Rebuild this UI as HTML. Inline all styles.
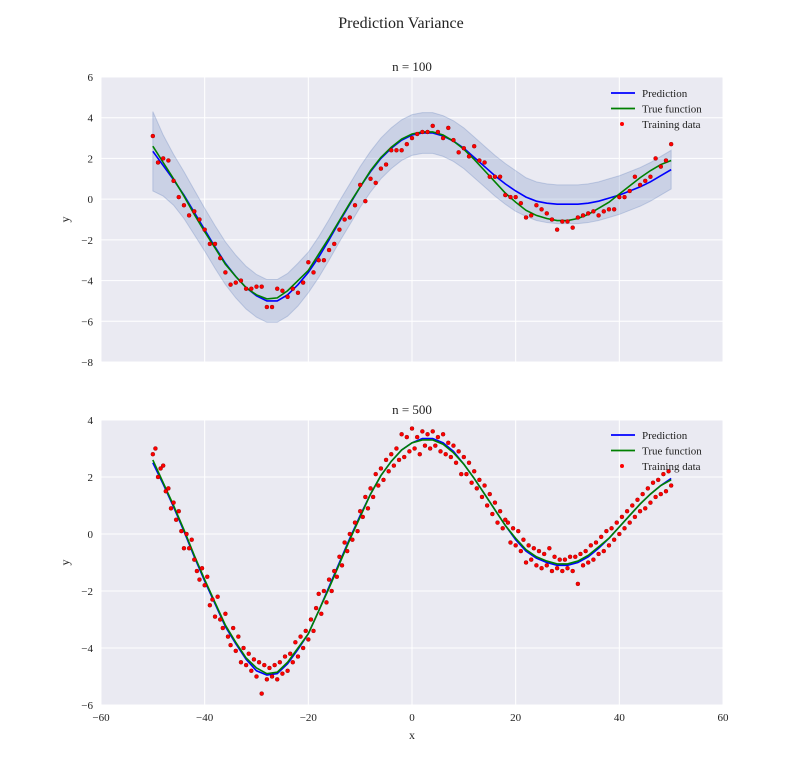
<!DOCTYPE html>
<html><head><meta charset="utf-8"><style>
body{margin:0;background:#fff;}
svg{display:block;font-family:"Liberation Serif","DejaVu Serif",serif;}
</style></head><body>
<svg id="chart" width="803" height="783" xmlns="http://www.w3.org/2000/svg">
<text x="401" y="28" text-anchor="middle" font-size="16" fill="#222">Prediction Variance</text>
</svg>
<script>
const curveX=[-50,-48,-46,-44,-42,-40,-38,-36,-34,-32,-30,-28,-26,-24,-22,-20,-18,-16,-14,-12,-10,-8,-6,-4,-2,0,2,4,6,8,10,12,14,16,18,20,22,24,26,28,30,32,34,36,38,40,42,44,46,48,50];
const trueY=[2.6,1.8,1.0,0.15,-0.75,-1.6,-2.4,-3.2,-3.8,-4.35,-4.7,-4.9,-4.85,-4.5,-4.0,-3.5,-2.7,-1.9,-1.05,-0.2,0.6,1.4,2.05,2.55,2.95,3.2,3.3,3.3,3.15,2.85,2.45,1.95,1.4,0.85,0.3,-0.15,-0.55,-0.8,-0.95,-1.05,-1.05,-0.95,-0.75,-0.45,-0.15,0.25,0.65,1.05,1.4,1.7,1.9];
const pred100=[2.35,1.65,0.95,0.2,-0.65,-1.5,-2.35,-3.15,-3.8,-4.35,-4.75,-5.0,-5.0,-4.7,-4.2,-3.6,-2.85,-2.0,-1.1,-0.25,0.6,1.35,2.0,2.5,2.9,3.15,3.25,3.25,3.1,2.85,2.5,2.05,1.6,1.15,0.75,0.4,0.1,-0.1,-0.2,-0.25,-0.25,-0.25,-0.2,-0.1,0.05,0.2,0.4,0.6,0.85,1.15,1.45];
const std100=[1.95,1.5,1.25,1.15,1.1,1.05,1.05,1.05,1.05,1.05,1.05,1.05,1.05,1.05,1.05,1.0,1.0,1.0,1.0,1.0,1.0,1.0,1.0,1.0,1.0,1.0,1.0,1.0,1.0,1.0,1.0,1.0,1.0,1.0,1.0,1.0,0.95,0.95,0.95,0.95,0.95,0.95,0.95,0.95,0.95,0.95,0.95,0.95,0.95,0.95,0.95];
const pred500=[2.5,1.75,0.95,0.1,-0.8,-1.65,-2.45,-3.25,-3.85,-4.4,-4.8,-4.95,-4.9,-4.55,-4.05,-3.5,-2.7,-1.85,-1.0,-0.15,0.65,1.4,2.05,2.55,2.95,3.2,3.35,3.35,3.2,2.9,2.45,1.95,1.4,0.85,0.3,-0.2,-0.6,-0.85,-1.0,-1.1,-1.1,-1.0,-0.8,-0.5,-0.15,0.25,0.65,1.05,1.4,1.7,1.95];
const train100X=[-50,-49,-48,-47,-46,-45,-44,-43,-42,-41,-40,-39,-38,-37,-36,-35,-34,-33,-32,-31,-30,-29,-28,-27,-26,-25,-24,-23,-22,-21,-20,-19,-18,-17,-16,-15,-14,-13,-12,-11,-10,-9,-8,-7,-6,-5,-4,-3,-2,-1,0,1,2,3,4,5,6,7,8,9,10,11,12,13,14,15,16,17,18,19,20,21,22,23,24,25,26,27,28,29,30,31,32,33,34,35,36,37,38,39,40,41,42,43,44,45,46,47,48,49,50];
const train100Y=[3.1,1.8,2.0,1.9,0.9,0.1,-0.3,-0.8,-0.6,-1.0,-1.5,-2.2,-2.2,-2.9,-3.6,-4.2,-4.1,-4.0,-4.4,-4.4,-4.3,-4.3,-5.3,-5.3,-4.4,-4.5,-4.8,-4.4,-4.6,-4.1,-3.1,-3.6,-3.0,-3.0,-2.5,-2.2,-1.5,-1.0,-0.9,-0.3,0.7,-0.1,1.0,0.8,1.5,1.7,2.4,2.4,2.4,2.7,3.0,3.2,3.3,3.3,3.6,3.3,3.0,3.5,2.9,2.3,2.5,2.1,2.6,1.9,1.8,1.1,1.1,1.1,0.2,0.1,0.1,-0.2,-0.9,-0.8,-0.3,-0.5,-0.7,-1.0,-1.5,-1.1,-1.1,-1.4,-0.9,-0.8,-0.7,-0.6,-0.8,-0.6,-0.5,-0.5,0.1,0.1,0.4,1.1,0.7,0.9,1.1,2.0,1.6,1.9,2.7];
const train500X=[-50,-49.5,-49,-48.5,-48,-47.5,-47,-46.5,-46,-45.5,-45,-44.5,-44,-43.5,-43,-42.5,-42,-41.5,-41,-40.5,-40,-39.5,-39,-38.5,-38,-37.5,-37,-36.5,-36,-35.5,-35,-34.5,-34,-33.5,-33,-32.5,-32,-31.5,-31,-30.5,-30,-29.5,-29,-28.5,-28,-27.5,-27,-26.5,-26,-25.5,-25,-24.5,-24,-23.5,-23,-22.5,-22,-21.5,-21,-20.5,-20,-19.5,-19,-18.5,-18,-17.5,-17,-16.5,-16,-15.5,-15,-14.5,-14,-13.5,-13,-12.5,-12,-11.5,-11,-10.5,-10,-9.5,-9,-8.5,-8,-7.5,-7,-6.5,-6,-5.5,-5,-4.5,-4,-3.5,-3,-2.5,-2,-1.5,-1,-0.5,0,0.5,1,1.5,2,2.5,3,3.5,4,4.5,5,5.5,6,6.5,7,7.5,8,8.5,9,9.5,10,10.5,11,11.5,12,12.5,13,13.5,14,14.5,15,15.5,16,16.5,17,17.5,18,18.5,19,19.5,20,20.5,21,21.5,22,22.5,23,23.5,24,24.5,25,25.5,26,26.5,27,27.5,28,28.5,29,29.5,30,30.5,31,31.5,32,32.5,33,33.5,34,34.5,35,35.5,36,36.5,37,37.5,38,38.5,39,39.5,40,40.5,41,41.5,42,42.5,43,43.5,44,44.5,45,45.5,46,46.5,47,47.5,48,48.5,49,49.5,50];
const train500Y=[2.8,3.0,2.0,2.3,2.4,1.5,1.6,0.9,1.1,0.5,0.8,0.1,-0.5,0.0,-0.5,-0.2,-0.9,-1.3,-1.6,-1.2,-1.8,-1.5,-2.5,-2.3,-2.9,-2.2,-3.0,-3.3,-2.8,-3.6,-3.9,-3.3,-4.1,-3.6,-4.5,-4.0,-4.6,-4.2,-4.8,-4.4,-5.0,-4.5,-5.6,-4.6,-5.1,-4.7,-5.0,-4.6,-5.1,-4.5,-4.9,-4.3,-4.8,-4.2,-4.5,-3.8,-4.3,-3.6,-4.0,-3.4,-3.7,-3.0,-3.4,-2.6,-2.1,-2.8,-2.0,-2.4,-1.6,-2.0,-1.3,-1.5,-0.8,-1.1,-0.3,-0.6,0.0,-0.2,0.4,0.1,0.8,0.6,1.3,0.9,1.6,1.3,2.1,1.7,2.3,1.9,2.6,2.2,2.8,2.4,3.0,2.6,3.5,2.7,3.4,2.9,3.7,3.0,3.4,2.8,3.6,3.1,3.5,3.0,3.6,3.1,3.4,2.9,3.5,2.8,3.2,2.7,3.1,2.5,2.9,2.1,2.7,2.1,2.5,1.8,2.2,1.6,1.9,1.3,1.7,1.0,1.4,0.7,1.1,0.4,0.8,0.2,0.5,0.4,-0.3,0.2,-0.4,0.1,-0.6,-0.2,-1.0,-0.4,-0.9,-0.5,-1.1,-0.6,-1.2,-0.7,-1.1,-0.5,-1.3,-0.8,-1.2,-0.9,-1.3,-0.9,-1.2,-0.8,-1.3,-0.8,-1.75,-0.7,-1.1,-0.6,-1.0,-0.4,-0.9,-0.3,-0.7,-0.1,-0.6,0.1,-0.4,0.2,-0.2,0.4,0.0,0.6,0.2,0.8,0.4,1.0,0.6,1.2,0.8,1.4,0.9,1.6,1.1,1.8,1.3,1.9,1.4,2.1,1.5,2.2,1.7];
const xTicks=[-60,-40,-20,0,20,40,60];
const yTicksTop=[-8,-6,-4,-2,0,2,4,6];
const yTicksBot=[-6,-4,-2,0,2,4];

const NS="http://www.w3.org/2000/svg";
const svg=document.getElementById('chart');
function mk(tag,attrs,parent){const e=document.createElementNS(NS,tag);for(const k in attrs)e.setAttribute(k,attrs[k]);(parent||svg).appendChild(e);return e;}
const X0=101,X1=723;
function sx(v){return X0+(v-(-60))/(120)*(X1-X0);}

function panel(cfg){
  const sy=v=>cfg.top+(cfg.ymax-v)/(cfg.ymax-cfg.ymin)*(cfg.bottom-cfg.top);
  const g=mk('g',{});
  
  
  const bg=mk('rect',{x:X0,y:cfg.top,width:X1-X0,height:cfg.bottom-cfg.top,fill:'#EAEAF2'},g);
  
  
  xTicks.forEach(t=>{const l=mk('line',{x1:sx(t),x2:sx(t),y1:cfg.top,y2:cfg.bottom,stroke:'#fff','stroke-width':1},g);
    
    if(cfg.xlabels){const tx=mk('text',{x:sx(t),y:cfg.bottom+16,'text-anchor':'middle','font-size':11,fill:'#222'},g);tx.textContent=(t<0?'\u2212'+(-t):t);
      }});
  cfg.yt.forEach(t=>{const l=mk('line',{x1:X0,x2:X1,y1:sy(t),y2:sy(t),stroke:'#fff','stroke-width':1},g);
    
    const tx=mk('text',{x:93,y:sy(t)+4,'text-anchor':'end','font-size':11,fill:'#222'},g);tx.textContent=(t<0?'\u2212'+(-t):t);
    });
  const ttl=mk('text',{x:412,y:cfg.top-6,'text-anchor':'middle','font-size':13,fill:'#222'},g);ttl.textContent=cfg.title;
  
  const yl=mk('text',{x:0,y:0,transform:`translate(69,${(cfg.top+cfg.bottom)/2}) rotate(-90)`,'text-anchor':'middle','font-size':12,fill:'#222'},g);yl.textContent='y';
  
  if(cfg.std){
    let d='';curveX.forEach((x,i)=>{d+=(i?'L':'M')+sx(x)+','+sy(cfg.pred[i]+cfg.std[i]);});
    for(let i=curveX.length-1;i>=0;i--)d+='L'+sx(curveX[i])+','+sy(cfg.pred[i]-cfg.std[i]);
    const b=mk('path',{d:d+'Z',fill:'#4C6EB4','fill-opacity':0.2,stroke:'#4C6EB4','stroke-opacity':0.25},g);
    
  }
  const line=(arr,col,name)=>{const p=mk('path',{d:curveX.map((x,i)=>(i?'L':'M')+sx(x)+','+sy(arr[i])).join(''),fill:'none',stroke:col,'stroke-width':1.6},g);
    };
  line(cfg.pred,'#0000FF','prediction-line');
  line(trueY,'#008000','true-function-line');
  cfg.tx.forEach((x,i)=>{const c=mk('circle',{cx:sx(x),cy:sy(cfg.ty[i]),r:2,fill:'#FF0000',stroke:'#800000','stroke-width':0.4},g);
    });
  const lg=mk('g',{},g);
  const ly=cfg.legY;
  [['Prediction','#0000FF'],['True function','#008000'],['Training data','#FF0000']].forEach((e,i)=>{
    const y=ly+i*15.5;
    if(i<2){const l=mk('line',{x1:611,x2:635,y1:y,y2:y,stroke:e[1],'stroke-width':1.8},lg);}
    else{const c=mk('circle',{cx:622,cy:y,r:2,fill:'#FF0000'},lg);}
    const t=mk('text',{x:642,y:y+4,'font-size':11,fill:'#222'},lg);t.textContent=e[0];
    });
}
panel({name:'panel-n100',top:77,bottom:362,ymin:-8,ymax:6,yt:yTicksTop,title:'n = 100',pred:pred100,std:std100,tx:train100X,ty:train100Y,legY:93,xlabels:false});
panel({name:'panel-n500',top:420,bottom:705,ymin:-6,ymax:4,yt:yTicksBot,title:'n = 500',pred:pred500,std:null,tx:train500X,ty:train500Y,legY:435,xlabels:true});
const xl=mk('text',{x:412,y:739,'text-anchor':'middle','font-size':12,fill:'#222'});xl.textContent='x';


</script>
</body></html>
